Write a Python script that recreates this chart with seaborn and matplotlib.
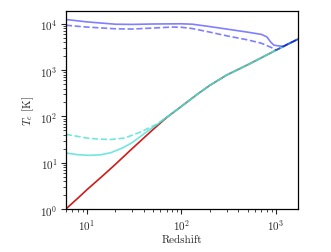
import numpy as np
import pandas as pd
import matplotlib
matplotlib.use("Agg")
import matplotlib.pyplot as plt
import seaborn as sns

# Gas temperature curves
# common (adiabatic) track, used by every curve at high redshift
z_main = [6, 8, 10, 15, 20, 30, 50, 70, 100, 150, 200, 300, 500, 700, 1000, 1300, 1700]
T_main = [1.0, 1.7, 2.6, 5.4, 9.2, 20, 52, 95, 165, 310, 470, 780, 1300, 1850, 2700, 3550, 4650]

# cyan curves (low-temperature heating), merge with main track near z~55
z_cyan_solid = [6, 8, 10.7, 14, 18, 24, 30, 37, 45, 55, 70, 100, 150, 200, 300, 500, 700, 1000, 1300, 1700]
T_cyan_solid = [16.2, 14.9, 14.4, 14.8, 16.5, 21, 27, 37, 50, 66, 96, 165, 310, 470, 780, 1300, 1850, 2700, 3550, 4650]

z_cyan_dash = [6, 8, 10, 13, 17.5, 25, 36, 46, 55, 70, 100, 150, 200, 300, 500, 700, 1000, 1300, 1700]
T_cyan_dash = [41, 37, 34, 32.5, 31.6, 34, 45, 57, 68, 96, 165, 310, 470, 780, 1300, 1850, 2700, 3550, 4650]

# blue curves (strong heating), merge with main track near z~1000
z_blue_solid = [6, 10, 20, 30, 50, 100, 130, 200, 300, 500, 700, 800, 880, 950, 1050, 1200, 1300, 1700]
T_blue_solid = [12400, 11000, 9800, 9700, 9900, 10000, 9800, 8700, 7700, 6600, 5900, 5200, 4000, 3450, 3350, 3250, 3550, 4650]

z_blue_dash = [6, 10, 20, 30, 50, 80, 100, 130, 200, 300, 500, 700, 900, 1000, 1300, 1700]
T_blue_dash = [9300, 8500, 7800, 7700, 8100, 8500, 8400, 7900, 6600, 5500, 4500, 3800, 3050, 2700, 3550, 4650]

sns.set_style("ticks")
plt.rcParams["font.family"] = "serif"
plt.rcParams["font.serif"] = ["cmr10", "DejaVu Serif"]
plt.rcParams["mathtext.fontset"] = "cm"
plt.rcParams["axes.formatter.use_mathtext"] = True
plt.rcParams["axes.unicode_minus"] = False

fig = plt.figure(figsize=(3.31, 2.53), dpi=100)
ax = fig.add_axes([0.199, 0.170, 0.701, 0.783])

lw = 1.2
sns.lineplot(x=z_main, y=T_main, ax=ax, color="#d11a1a", lw=lw, sort=False)
sns.lineplot(x=z_cyan_solid, y=T_cyan_solid, ax=ax, color="turquoise", alpha=0.75, lw=lw, sort=False)
sns.lineplot(x=z_cyan_dash, y=T_cyan_dash, ax=ax, color="turquoise", alpha=0.75, lw=lw,
             linestyle="--", sort=False)
sns.lineplot(x=z_blue_solid, y=T_blue_solid, ax=ax, color="blue", alpha=0.5, lw=lw, sort=False)
sns.lineplot(x=z_blue_dash, y=T_blue_dash, ax=ax, color="blue", alpha=0.5, lw=lw,
             linestyle="--", sort=False)

ax.set_xscale("log")
ax.set_yscale("log")
ax.set_xlim(6, 1700)
ax.set_ylim(1, 1.9e4)

ax.set_xlabel("Redshift", fontsize=8, labelpad=2)
ax.set_ylabel(r"$T_e$ [K]", fontsize=8, labelpad=3)
ax.tick_params(which="major", labelsize=8, length=3.5, width=0.8, direction="out", pad=2.5)
ax.tick_params(which="minor", length=2, width=0.6, direction="out")
for s in ax.spines.values():
    s.set_visible(True)
    s.set_linewidth(0.9)
    s.set_color("black")

fig.savefig("out.png", dpi=100)
